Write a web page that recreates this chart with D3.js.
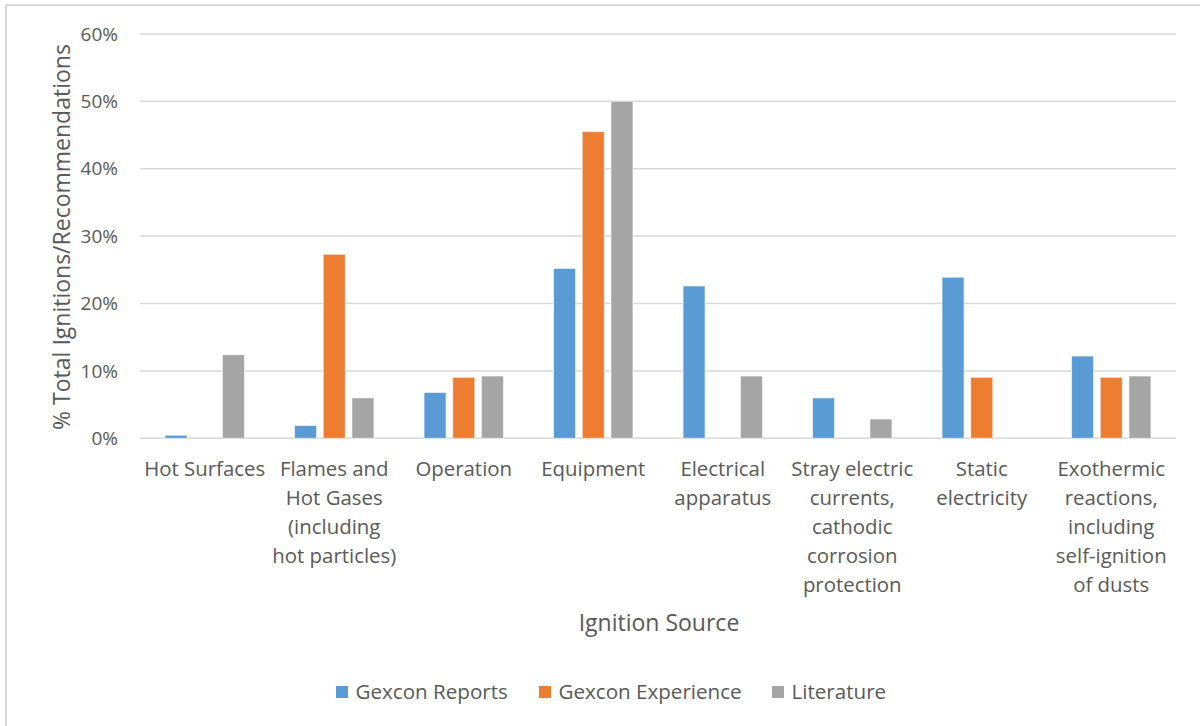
<!DOCTYPE html>
<html><head><meta charset="utf-8">
<script src="https://cdn.jsdelivr.net/npm/d3@7"></script>
<style>
html,body{margin:0;padding:0;background:#fff;}
text{font-family:"Open Sans",Lato,sans-serif;fill:#595959;}
</style></head>
<body><svg id="c" width="1200" height="726"></svg>
<script>
const categories = ["Hot Surfaces", "Flames and\nHot Gases\n(including\nhot particles)", "Operation", "Equipment",
  "Electrical\napparatus", "Stray electric\ncurrents,\ncathodic\ncorrosion\nprotection", "Static\nelectricity",
  "Exothermic\nreactions,\nincluding\nself-ignition\nof dusts"];
const seriesNames = ["Gexcon Reports", "Gexcon Experience", "Literature"];
const gexconReports    = [0.45, 1.9, 6.8, 25.2, 22.6, 6.0, 23.9, 12.2];
const gexconExperience = [0, 27.3, 9.05, 45.5, 0, 0, 9.05, 9.05];
const literature       = [12.4, 6.0, 9.24, 50.0, 9.24, 2.86, 0, 9.24];
const yTicks = [0, 10, 20, 30, 40, 50, 60];
const colors = ["#5B9BD5", "#ED7D31", "#A5A5A5"];

const values = [gexconReports, gexconExperience, literature];
const svg = d3.select("#c");

// outer border
svg.append("rect").attr("x", 6).attr("y", 5).attr("width", 1200).attr("height", 730)
  .attr("fill", "none").attr("stroke", "#d9d9d9").attr("stroke-width", 2);

const pLeft = 140, pRight = 1176, pTop = 33.9, pBottom = 438.3;
const x0 = d3.scaleBand().domain(categories).range([pLeft, pRight]).padding(0);
const x1 = d3.scaleBand().domain(seriesNames).range([0, 79.4]).paddingInner(0.233).paddingOuter(0);
const y = d3.scaleLinear().domain([0, 60]).range([pBottom, pTop]);

// gridlines
svg.append("g").selectAll("line").data(yTicks).join("line")
  .attr("x1", pLeft).attr("x2", pRight)
  .attr("y1", d => y(d)).attr("y2", d => y(d))
  .attr("stroke", "#d9d9d9").attr("stroke-width", 1.5);

// y tick labels
svg.append("g").selectAll("text").data(yTicks).join("text")
  .attr("x", 118).attr("y", d => y(d)).attr("dy", "0.35em")
  .attr("text-anchor", "end").attr("font-size", 19).text(d => d + "%");

// bars
const groupOff = (x0.bandwidth() - 79.4) / 2;
const g = svg.append("g");
seriesNames.forEach((s, si) => {
  g.append("g").selectAll("rect").data(values[si].map((v, i) => ({v, c: categories[i]})))
    .join("rect")
    .attr("x", d => x0(d.c) + groupOff + x1(s))
    .attr("y", d => y(d.v))
    .attr("width", x1.bandwidth())
    .attr("height", d => pBottom - y(d.v))
    .attr("fill", colors[si])
    .attr("stroke", d => d.v > 0 ? "#ffffff" : "none").attr("stroke-opacity", 0.6).attr("stroke-width", 1);
});

// x labels
const xl = svg.append("g");
categories.forEach(c => {
  const cx = x0(c) + x0.bandwidth() / 2;
  const t = xl.append("text").attr("x", cx).attr("y", 476)
    .attr("text-anchor", "middle").attr("font-size", 20.4);
  c.split("\n").forEach((line, i) => {
    t.append("tspan").attr("x", cx).attr("dy", i === 0 ? 0 : 29).text(line);
  });
});

// axis titles
svg.append("text").attr("x", 659).attr("y", 631).attr("text-anchor", "middle")
  .attr("font-size", 23).text("Ignition Source");
svg.append("text").attr("transform", "translate(70,237) rotate(-90)").attr("text-anchor", "middle")
  .attr("font-size", 23).text("% Total Ignitions/Recommendations");

// legend
const legX = [336, 539, 772];
const lg = svg.append("g");
seriesNames.forEach((s, i) => {
  lg.append("rect").attr("x", legX[i]).attr("y", 686).attr("width", 12).attr("height", 12).attr("fill", colors[i]);
  lg.append("text").attr("x", legX[i] + 19.5).attr("y", 692).attr("dy", "0.35em")
    .attr("font-size", 20.6).text(s);
});
</script></body></html>
